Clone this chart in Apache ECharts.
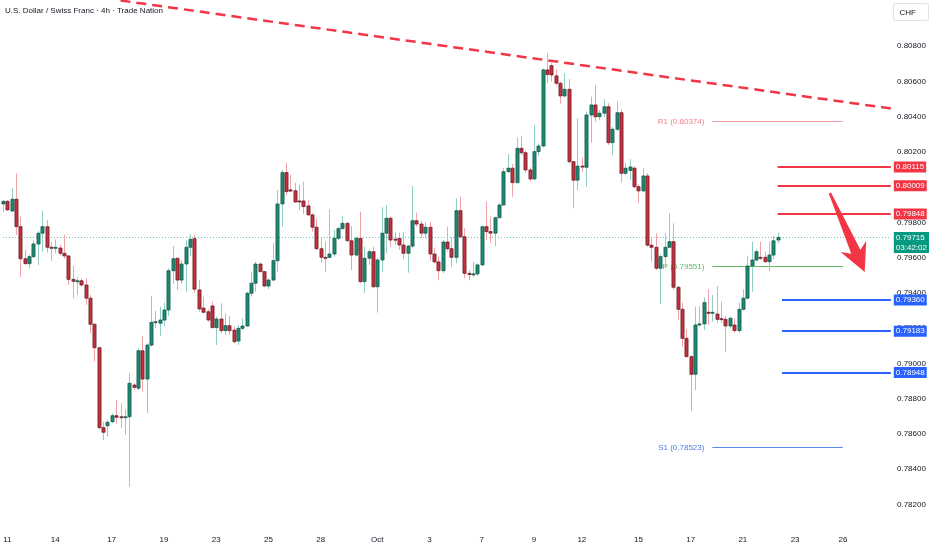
<!DOCTYPE html>
<html>
<head>
<meta charset="utf-8">
<title>USD/CHF 4h</title>
<script src="https://cdn.jsdelivr.net/npm/echarts@6/dist/echarts.min.js"></script>
<style>
  html, body { margin: 0; padding: 0; background: #fff; }
  #chart { width: 932px; height: 550px; }
</style>
</head>
<body>
<div id="chart"></div>
<script>
// 4h candles (oldest first)
var opens = [
  0.79905, 0.79920, 0.79865, 0.79932, 0.79776, 0.79594, 0.79566, 0.79606, 0.79678, 0.79739,
  0.79776, 0.79659, 0.79655, 0.79655, 0.79625, 0.79610, 0.79477, 0.79466, 0.79469, 0.79445,
  0.79370, 0.79222, 0.79089, 0.78635, 0.78646, 0.78669, 0.78703, 0.78697, 0.78694, 0.78697,
  0.78877, 0.78859, 0.79072, 0.78911, 0.79104, 0.79233, 0.79228, 0.79246, 0.79303, 0.79526,
  0.79597, 0.79473, 0.79564, 0.79659, 0.79708, 0.79417, 0.79314, 0.79293, 0.79326, 0.79203,
  0.79252, 0.79186, 0.79214, 0.79189, 0.79127, 0.79199, 0.79212, 0.79398, 0.79455, 0.79564,
  0.79521, 0.79439, 0.79473, 0.79583, 0.79905, 0.80083, 0.79985, 0.79980, 0.79922, 0.79922,
  0.79894, 0.79843, 0.79773, 0.79651, 0.79602, 0.79602, 0.79621, 0.79710, 0.79765, 0.79795,
  0.79696, 0.79615, 0.79710, 0.79464, 0.79597, 0.79634, 0.79435, 0.79587, 0.79739, 0.79824,
  0.79705, 0.79710, 0.79672, 0.79625, 0.79666, 0.79810, 0.79791, 0.79739, 0.79773, 0.79621,
  0.79576, 0.79526, 0.79689, 0.79651, 0.79602, 0.79867, 0.79719, 0.79511, 0.79504, 0.79508,
  0.79559, 0.79776, 0.79748, 0.79739, 0.79827, 0.79899, 0.80088, 0.80108, 0.80026, 0.80221,
  0.80196, 0.80098, 0.80047, 0.80202, 0.80234, 0.80666, 0.80690, 0.80632, 0.80590, 0.80518,
  0.80556, 0.80145, 0.80040, 0.80120, 0.80113, 0.80410, 0.80467, 0.80400, 0.80420, 0.80457,
  0.80253, 0.80329, 0.80423, 0.80079, 0.80095, 0.80108, 0.80003, 0.79979, 0.80064, 0.79671,
  0.79659, 0.79540, 0.79606, 0.79659, 0.79691, 0.79432, 0.79307, 0.79142, 0.79038, 0.78938,
  0.79218, 0.79224, 0.79290, 0.79285, 0.79280, 0.79254, 0.79250, 0.79212, 0.79218, 0.79186,
  0.79307, 0.79370, 0.79553, 0.79587, 0.79602, 0.79602, 0.79577, 0.79615, 0.79700
];
var highs = [
  0.79927, 0.79927, 0.79994, 0.80079, 0.79833, 0.79644, 0.79615, 0.79700, 0.79753, 0.79867,
  0.79814, 0.79691, 0.79704, 0.79672, 0.79729, 0.79614, 0.79553, 0.79489, 0.79483, 0.79483,
  0.79388, 0.79228, 0.79095, 0.78669, 0.78678, 0.78717, 0.78792, 0.78773, 0.78740, 0.78944,
  0.78887, 0.79086, 0.79156, 0.79114, 0.79383, 0.79299, 0.79322, 0.79345, 0.79540, 0.79666,
  0.79597, 0.79587, 0.79700, 0.79735, 0.79729, 0.79473, 0.79379, 0.79307, 0.79350, 0.79265,
  0.79341, 0.79284, 0.79269, 0.79208, 0.79218, 0.79256, 0.79407, 0.79521, 0.79577, 0.79572,
  0.79521, 0.79483, 0.79682, 0.79984, 0.80098, 0.80139, 0.80070, 0.80026, 0.80013, 0.80031,
  0.79927, 0.79852, 0.79824, 0.79716, 0.79691, 0.79875, 0.79757, 0.79776, 0.79837, 0.79804,
  0.79780, 0.79719, 0.79861, 0.79662, 0.79648, 0.79662, 0.79597, 0.79886, 0.79899, 0.79833,
  0.79748, 0.79742, 0.79748, 0.79672, 0.80007, 0.79856, 0.79810, 0.79799, 0.79804, 0.79653,
  0.79606, 0.79700, 0.79776, 0.79716, 0.79937, 0.79946, 0.79767, 0.79530, 0.79576, 0.79568,
  0.79780, 0.79918, 0.79833, 0.79833, 0.79912, 0.80108, 0.80189, 0.80132, 0.80284, 0.80291,
  0.80208, 0.80113, 0.80353, 0.80249, 0.80675, 0.80760, 0.80705, 0.80670, 0.80599, 0.80647,
  0.80613, 0.80150, 0.80391, 0.80170, 0.80429, 0.80514, 0.80580, 0.80438, 0.80499, 0.80477,
  0.80344, 0.80486, 0.80443, 0.80136, 0.80159, 0.80121, 0.80018, 0.80108, 0.80079, 0.79710,
  0.79739, 0.79620, 0.79739, 0.79852, 0.79795, 0.79439, 0.79345, 0.79194, 0.79048, 0.79322,
  0.79326, 0.79375, 0.79421, 0.79388, 0.79439, 0.79350, 0.79269, 0.79265, 0.79256, 0.79345,
  0.79421, 0.79610, 0.79691, 0.79648, 0.79691, 0.79634, 0.79691, 0.79723, 0.79742
];
var lows = [
  0.79861, 0.79867, 0.79861, 0.79729, 0.79489, 0.79559, 0.79540, 0.79597, 0.79557, 0.79634,
  0.79628, 0.79583, 0.79625, 0.79615, 0.79594, 0.79445, 0.79370, 0.79388, 0.79435, 0.79332,
  0.79171, 0.79010, 0.78625, 0.78565, 0.78584, 0.78660, 0.78660, 0.78632, 0.78594, 0.78300,
  0.78849, 0.78849, 0.78839, 0.78717, 0.79095, 0.79199, 0.79156, 0.79212, 0.79269, 0.79451,
  0.79417, 0.79451, 0.79407, 0.79610, 0.79401, 0.79293, 0.79284, 0.79237, 0.79199, 0.79104,
  0.79171, 0.79161, 0.79161, 0.79114, 0.79104, 0.79190, 0.79208, 0.79379, 0.79407, 0.79515,
  0.79435, 0.79421, 0.79469, 0.79521, 0.79776, 0.79956, 0.79973, 0.79912, 0.79871, 0.79848,
  0.79837, 0.79748, 0.79644, 0.79572, 0.79521, 0.79597, 0.79606, 0.79700, 0.79760, 0.79691,
  0.79530, 0.79606, 0.79455, 0.79398, 0.79559, 0.79426, 0.79288, 0.79521, 0.79625, 0.79663,
  0.79672, 0.79644, 0.79591, 0.79515, 0.79653, 0.79776, 0.79710, 0.79710, 0.79583, 0.79568,
  0.79473, 0.79511, 0.79634, 0.79549, 0.79568, 0.79710, 0.79483, 0.79473, 0.79492, 0.79496,
  0.79553, 0.79700, 0.79682, 0.79666, 0.79824, 0.79894, 0.80083, 0.79946, 0.80022, 0.80183,
  0.80083, 0.80032, 0.80041, 0.80177, 0.80227, 0.80590, 0.80600, 0.80580, 0.80473, 0.80511,
  0.80136, 0.79880, 0.79984, 0.80088, 0.80003, 0.80253, 0.80372, 0.80382, 0.80400, 0.80240,
  0.80183, 0.80321, 0.80026, 0.80070, 0.80041, 0.79994, 0.79909, 0.79975, 0.79663, 0.79577,
  0.79530, 0.79337, 0.79540, 0.79653, 0.79417, 0.79246, 0.79095, 0.79035, 0.78731, 0.78849,
  0.79208, 0.79189, 0.79218, 0.79237, 0.79228, 0.79228, 0.79066, 0.79199, 0.79175, 0.79175,
  0.79299, 0.79364, 0.79407, 0.79577, 0.79587, 0.79572, 0.79524, 0.79591, 0.79682
];
var closes = [
  0.79920, 0.79871, 0.79932, 0.79776, 0.79594, 0.79566, 0.79606, 0.79678, 0.79739, 0.79776,
  0.79659, 0.79655, 0.79659, 0.79625, 0.79610, 0.79477, 0.79466, 0.79469, 0.79445, 0.79370,
  0.79222, 0.79089, 0.78635, 0.78609, 0.78666, 0.78703, 0.78694, 0.78694, 0.78697, 0.78887,
  0.78864, 0.79072, 0.78911, 0.79104, 0.79233, 0.79237, 0.79246, 0.79303, 0.79526, 0.79594,
  0.79473, 0.79564, 0.79659, 0.79704, 0.79421, 0.79309, 0.79290, 0.79246, 0.79203, 0.79252,
  0.79186, 0.79214, 0.79186, 0.79123, 0.79199, 0.79212, 0.79398, 0.79455, 0.79564, 0.79521,
  0.79439, 0.79473, 0.79583, 0.79905, 0.80083, 0.79975, 0.79978, 0.79916, 0.79916, 0.79890,
  0.79843, 0.79773, 0.79651, 0.79602, 0.79598, 0.79621, 0.79710, 0.79765, 0.79795, 0.79696,
  0.79615, 0.79710, 0.79464, 0.79597, 0.79634, 0.79435, 0.79587, 0.79739, 0.79824, 0.79700,
  0.79700, 0.79672, 0.79625, 0.79666, 0.79810, 0.79791, 0.79739, 0.79773, 0.79621, 0.79576,
  0.79526, 0.79689, 0.79651, 0.79602, 0.79867, 0.79719, 0.79511, 0.79504, 0.79508, 0.79559,
  0.79776, 0.79748, 0.79739, 0.79827, 0.79899, 0.80088, 0.80108, 0.80026, 0.80221, 0.80196,
  0.80098, 0.80047, 0.80202, 0.80234, 0.80666, 0.80640, 0.80637, 0.80590, 0.80518, 0.80556,
  0.80145, 0.80040, 0.80120, 0.80115, 0.80410, 0.80467, 0.80400, 0.80420, 0.80457, 0.80253,
  0.80329, 0.80423, 0.80079, 0.80108, 0.80115, 0.80003, 0.79979, 0.80064, 0.79671, 0.79659,
  0.79540, 0.79606, 0.79659, 0.79691, 0.79432, 0.79307, 0.79142, 0.79038, 0.78938, 0.79218,
  0.79224, 0.79345, 0.79285, 0.79290, 0.79250, 0.79250, 0.79212, 0.79256, 0.79186, 0.79307,
  0.79370, 0.79553, 0.79587, 0.79634, 0.79598, 0.79577, 0.79615, 0.79696, 0.79715
];

// date labels on the time axis and the candle slot where each one sits
var tickLabels = ['11', '14', '17', '19', '23', '25', '28', 'Oct', '3', '7', '9', '12', '15', '17', '21', '23', '26'];
var tickSlots = [1, 12, 25, 37, 49, 61, 73, 86, 98, 110, 122, 133, 146, 158, 170, 182, 193];
var slotCount = 205; // candles + empty future slots up to the price scale

var priceTicks = [0.782, 0.784, 0.786, 0.788, 0.790, 0.792, 0.794, 0.796, 0.798, 0.800, 0.802, 0.804, 0.806, 0.808];

// drawn levels
var resistance = [0.80115, 0.80009, 0.79848];
var support = [0.79360, 0.79183, 0.78948];
var pivotNames = ['R1', 'P', 'S1'];
var pivotValues = [0.80374, 0.79551, 0.78523];
var pivotSpan = [163, 193];
var lastPrice = 0.79715, countdown = '03:42:02';
var trendLine = [[27, 0.81060], [204, 0.80447]];
var arrowPath = [190, 0.79967, 198, 0.79519];

var FONT = "'Liberation Sans', Arial, sans-serif";
var UP_BODY = '#1f8a72', UP_EDGE = '#0e4f42', UP_WICK = '#8fd0c2';
var DN_BODY = '#c3323f', DN_EDGE = '#5e1820', DN_WICK = '#f3a2aa';
var RED = '#f23645', BLUE = '#2962ff';
var PIVOT_LINE = ['#f5a0a9', '#66bb6a', '#5d87ee'];
var PIVOT_TEXT = ['#f0808c', '#5fb863', '#4f7be8'];

var categories = [];
for (var s = 0; s < slotCount; s++) categories.push('');
tickSlots.forEach(function(slot, k){ categories[slot] = tickLabels[k]; });

var candles = opens.map(function(o, i){
    return [i, o, closes[i], lows[i], highs[i]];
});

var pivots = pivotValues.map(function(v, k){
    return [pivotSpan[0], pivotSpan[1], v, k];
});

function renderCandle(params, api){
    var idx = api.value(0), o = api.value(1), c = api.value(2), l = api.value(3), h = api.value(4);
    var top = api.coord([idx, Math.max(o, c)]);
    var bot = api.coord([idx, Math.min(o, c)]);
    var hi = api.coord([idx, h]);
    var lo = api.coord([idx, l]);
    var bw = api.size([1, 0])[0] * 0.72;
    var up = c >= o;
    var x = Math.round(top[0]) + 0.5;
    return {
        type: 'group',
        children: [
            {type: 'line', shape: {x1: x, y1: hi[1], x2: x, y2: lo[1]},
             style: {stroke: up ? UP_WICK : DN_WICK, lineWidth: 1}},
            {type: 'rect', shape: {x: x - bw / 2, y: top[1], width: bw, height: Math.max(bot[1] - top[1], 1)},
             style: {fill: up ? UP_BODY : DN_BODY, stroke: up ? UP_EDGE : DN_EDGE, lineWidth: 0.7}}
        ]
    };
}

// pivot line with its name written in front of it
function renderPivot(params, api){
    var v = api.value(2), k = api.value(3);
    var a = api.coord([api.value(0), v]);
    var b = api.coord([api.value(1), v]);
    var y = Math.round(a[1]) + 0.5;
    return {
        type: 'group',
        children: [
            {type: 'line', shape: {x1: a[0], y1: y, x2: b[0], y2: y},
             style: {stroke: PIVOT_LINE[k], lineWidth: 1}},
            {type: 'text', x: a[0] - 8, y: y,
             style: {text: pivotNames[k] + ' (' + v.toFixed(5) + ')', fill: PIVOT_TEXT[k],
                     fontSize: 8, fontFamily: FONT, align: 'right', verticalAlign: 'middle'}}
        ]
    };
}

// tapered arrow, like the drawing tool: thin tail, wide notched head
function renderArrow(params, api){
    var a = api.coord([api.value(0), api.value(1)]);
    var b = api.coord([api.value(2), api.value(3)]);
    var dx = b[0] - a[0], dy = b[1] - a[1];
    var len = Math.sqrt(dx * dx + dy * dy);
    var ux = dx / len, uy = dy / len, nx = -uy, ny = ux;
    function pt(along, side){ return [a[0] + ux * along + nx * side, a[1] + uy * along + ny * side]; }
    return {
        type: 'polygon',
        shape: {points: [
            pt(0, -1.2), pt(len - 22, -5), pt(len - 28, -14), pt(len, 0),
            pt(len - 28, 14), pt(len - 22, 5), pt(0, 1.2)
        ]},
        style: {fill: RED}
    };
}

// horizontal level with a price tag on the scale
function tagLevel(value, from, color){
    var ls = {color: color, width: 2, type: 'solid'};
    return [
        {coord: [from, value], lineStyle: ls,
         label: {show: true, position: 'end', distance: 3, formatter: value.toFixed(5),
                 backgroundColor: color, color: '#fff', fontSize: 8, fontFamily: FONT,
                 padding: [2, 2, 1, 2]}},
        {coord: [slotCount - 1, value], lineStyle: ls}
    ];
}

var levelData = [
    [{coord: trendLine[0], lineStyle: {color: RED, width: 2.5, type: [10, 6]}, label: {show: false}},
     {coord: trendLine[1]}],
    [{coord: [0, lastPrice], lineStyle: {color: 'rgba(8,153,129,0.6)', width: 1, type: [1, 2]},
      label: {show: true, position: 'end', distance: 3, formatter: lastPrice.toFixed(5) + '\n' + countdown,
              backgroundColor: '#089981', color: '#fff', fontSize: 8, lineHeight: 10, fontFamily: FONT,
              padding: [1, 2, 0, 2], offset: [0, 5]}},
     {coord: [slotCount - 1, lastPrice]}]
];
resistance.forEach(function(v){ levelData.push(tagLevel(v, 178, RED)); });
support.forEach(function(v){ levelData.push(tagLevel(v, 179, BLUE)); });

var chart = echarts.init(document.getElementById('chart'));
chart.setOption({
    animation: false,
    backgroundColor: '#ffffff',
    textStyle: {fontFamily: FONT},
    title: {
        text: 'U.S. Dollar / Swiss Franc · 4h · Trade Nation',
        left: 5, top: 7, padding: 0,
        textStyle: {fontSize: 8, fontWeight: 'normal', color: '#131722', fontFamily: FONT}
    },
    grid: {left: 0, right: 39, top: 0, bottom: 24},
    xAxis: {
        type: 'category',
        data: categories,
        axisLine: {show: false},
        axisTick: {show: false},
        splitLine: {show: false},
        axisLabel: {interval: 0, margin: 10, fontSize: 8, color: '#131722', fontFamily: FONT}
    },
    yAxis: {
        type: 'value',
        position: 'right',
        min: 0.780768,
        max: 0.810628,
        axisLine: {show: false},
        axisTick: {show: false},
        splitLine: {show: false},
        axisLabel: {
            customValues: priceTicks,
            margin: 4, fontSize: 8, color: '#131722', fontFamily: FONT,
            formatter: function(v){ return v.toFixed(5); }
        }
    },
    graphic: [{
        type: 'group', right: 3, top: 3,
        children: [
            {type: 'rect', shape: {x: 0, y: 0, width: 35, height: 17, r: 2},
             style: {fill: '#fff', stroke: '#e0e3eb', lineWidth: 1}},
            {type: 'text', x: 6, y: 5, style: {text: 'CHF', fontSize: 8, fill: '#131722', fontFamily: FONT}}
        ]
    }],
    series: [
        {
            name: 'pivots',
            type: 'custom',
            z: 1,
            silent: true,
            clip: false,
            renderItem: renderPivot,
            encode: {x: [0, 1], y: 2},
            data: pivots
        },
        {
            name: 'levels',
            type: 'line',
            data: [],
            silent: true,
            markLine: {silent: true, z: 1, symbol: ['none', 'none'], data: levelData}
        },
        {
            name: 'USDCHF',
            type: 'custom',
            z: 3,
            renderItem: renderCandle,
            encode: {x: 0, y: [1, 2, 3, 4]},
            data: candles
        },
        {
            name: 'arrow',
            type: 'custom',
            z: 6,
            silent: true,
            clip: false,
            renderItem: renderArrow,
            encode: {x: [0, 2], y: [1, 3]},
            data: [arrowPath]
        }
    ]
});
</script>
</body>
</html>
